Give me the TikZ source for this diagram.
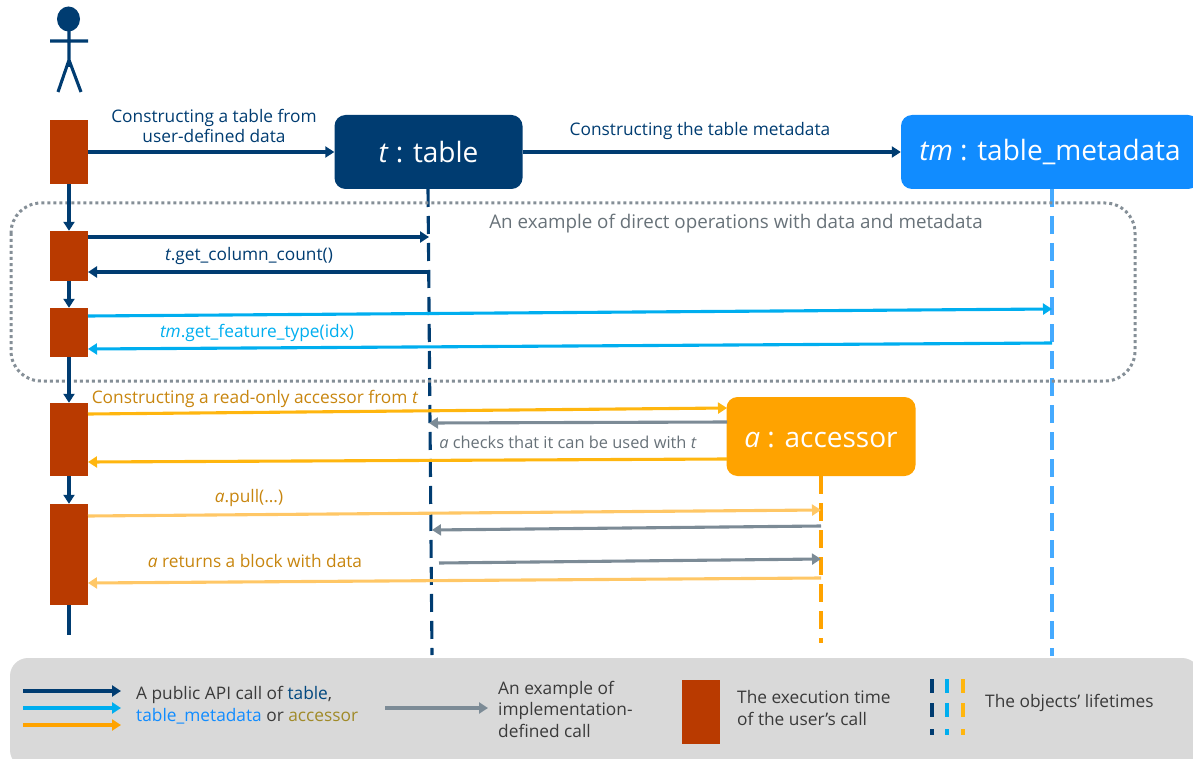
\documentclass[tikz,border=0pt]{standalone}
\usepackage{fontspec}
\setmainfont{Open Sans}
\usetikzlibrary{arrows.meta}
\definecolor{navy}{HTML}{003C71}
\definecolor{cyanl}{HTML}{00AEEF}
\definecolor{tmblue}{HTML}{118CFF}
\definecolor{tmlife}{HTML}{45AAFF}
\definecolor{amber}{HTML}{FFA300}
\definecolor{amberb}{HTML}{FFB60F}
\definecolor{amberl}{HTML}{FFC766}
\definecolor{ambertxt}{HTML}{C8860F}
\definecolor{redb}{HTML}{B93A00}
\definecolor{grayar}{HTML}{7C8B96}
\definecolor{graytxt}{HTML}{687279}
\definecolor{dotgray}{HTML}{858F97}
\definecolor{legendbg}{HTML}{D9D9D9}
\definecolor{legtxt}{HTML}{3A3A3A}
\definecolor{legtable}{HTML}{00477F}
\definecolor{legacc}{HTML}{A08A28}
\tikzset{
  block/.style={fill=redb,inner sep=0pt,minimum width=38pt},
  objbox/.style={rounded corners=11pt,inner sep=0pt,text=white,font=\fontsize{28}{30}\selectfont},
  call/.style={line width=3.1pt,-{Triangle[length=9pt,width=11pt]},shorten >=0pt},
  life/.style={line width=3.1pt,dash pattern=on 18pt off 9pt},
  lab/.style={inner sep=0pt,font=\fontsize{17.3}{20}\selectfont,align=center},
  leg/.style={inner sep=0pt,font=\fontsize{17.3}{21.5}\selectfont,align=left,anchor=west,text=legtxt},
  legdash/.style={line width=3.1pt}
}
\begin{document}
\begin{tikzpicture}[x=1pt,y=-1pt]
\useasboundingbox (0,0) rectangle (1193,759);
% actor
\fill[navy] (68.5,19) ellipse (11.5 and 12.5);
\draw[navy,line width=3.1pt] (69,30) -- (69,67) (50,41) -- (88,41) (58,92) -- (69,60) -- (81,92);
% coordinates
\coordinate (tTop) at (428,189); \coordinate (tBot) at (432,655);
\coordinate (tmTop) at (1052,189); \coordinate (tmBot) at (1052,656);
\coordinate (aTop) at (821,476); \coordinate (aBot) at (821,643);
\coordinate (uEnd) at (69,635);
\coordinate (c1s) at (88,237); \coordinate (c1e) at (429,237);
\coordinate (c2s) at (429,272); \coordinate (c2e) at (88,272);
\coordinate (c3s) at (88,316); \coordinate (c3e) at (1052,309);
\coordinate (c4s) at (1052,343); \coordinate (c4e) at (88,349);
\coordinate (c5s) at (88,414); \coordinate (c5e) at (727,408);
\coordinate (c6s) at (727,422); \coordinate (c6e) at (429,423);
\coordinate (c7s) at (727,459); \coordinate (c7e) at (88,462);
\coordinate (c8s) at (88,516); \coordinate (c8e) at (821,510);
\coordinate (c9s) at (821,526); \coordinate (c9e) at (432,530);
\coordinate (c10s) at (439,563); \coordinate (c10e) at (821,559);
\coordinate (c11s) at (821,578); \coordinate (c11e) at (88,583);
% lifelines
\draw[life,navy] (tTop) -- (tBot);
\draw[life,tmlife] (tmTop) -- (tmBot);
\draw[life,amber] (aTop) -- (aBot);
% dotted group
\draw[dotgray,line width=3pt,dash pattern=on 3pt off 3pt,rounded corners=30pt] (11,203) rectangle (1135,381);
% blocks
\node[block,minimum height=64pt] (b1) at (69,152) {};
\node[block,minimum height=50pt] (b2) at (69,256) {};
\node[block,minimum height=49pt] (b3) at (69,332.5) {};
\node[block,minimum height=73pt] (b4) at (69,439.5) {};
\node[block,minimum height=101pt] (b5) at (69,554.5) {};
% objects
\node[objbox,fill=navy,minimum width=188pt,minimum height=74pt] (t) at (428.5,152) {\textit{t} : table};
\node[objbox,fill=tmblue,minimum width=298pt,minimum height=74pt] (tm) at (1050,152) {\textit{tm} : table\_metadata};
\node[objbox,fill=amber,minimum width=189pt,minimum height=79pt] (a) at (821,436.5) {\raisebox{-11pt}[0pt][0pt]{\textit{a} : accessor}};
% user line
\draw[call,navy] (b1) -- (b2);
\draw[call,navy] (b2) -- (b3);
\draw[call,navy] (b3) -- (b4);
\draw[call,navy] (b4) -- (b5);
\draw[line width=3.1pt,navy] (b5) -- (uEnd);
% calls
\draw[call,navy] (b1) -- (t);
\draw[call,navy] (t) -- (tm);
\draw[call,navy] (c1s) -- (c1e);
\draw[call,navy] (c2s) -- (c2e);
\draw[call,cyanl] (c3s) -- (c3e);
\draw[call,cyanl] (c4s) -- (c4e);
\draw[call,amberb] (c5s) -- (c5e);
\draw[call,grayar] (c6s) -- (c6e);
\draw[call,amberb] (c7s) -- (c7e);
\draw[call,amberl] (c8s) -- (c8e);
\draw[call,grayar] (c9s) -- (c9e);
\draw[call,grayar] (c10s) -- (c10e);
\draw[call,amberl] (c11s) -- (c11e);
% labels
\node[lab,text=navy] (l1) at (214,126) {Constructing a table from\\user-defined data};
\node[lab,text=navy] (l2) at (700,131) {Constructing the table metadata};
\node[lab,text=graytxt,font=\fontsize{18.8}{22}\selectfont] (l3) at (736,223.5) {An example of direct operations with data and metadata};
\node[lab,text=navy] (l4) at (249,256) {\textit{t}.get\_column\_count()};
\node[lab,text=cyanl] (l5) at (257,333) {\textit{tm}.get\_feature\_type(idx)};
\node[lab,text=ambertxt] (l6) at (255,399) {Constructing a read-only accessor from \textit{t}};
\node[lab,text=graytxt,font=\fontsize{16.4}{20}\selectfont] (l7) at (568,442) {\textit{a} checks that it can be used with \textit{t}};
\node[lab,text=ambertxt] (l8) at (249,498) {\textit{a}.pull(...)};
\node[lab,text=ambertxt] (l9) at (255,561) {\textit{a} returns a block with data};
% legend
\fill[legendbg,rounded corners=18pt] (10,658) rectangle (1200,768);
\coordinate (k1s) at (23,691); \coordinate (k1e) at (121,691);
\coordinate (k2s) at (23,708); \coordinate (k2e) at (121,708);
\coordinate (k3s) at (23,725); \coordinate (k3e) at (121,725);
\coordinate (k4s) at (385,708); \coordinate (k4e) at (488,708);
\draw[call,navy] (k1s) -- (k1e);
\draw[call,cyanl] (k2s) -- (k2e);
\draw[call,amber] (k3s) -- (k3e);
\draw[call,grayar] (k4s) -- (k4e);
\node[leg] (t1) at (136,705) {A public API call of \textcolor{legtable}{table},\\\textcolor{tmblue}{table\_metadata} or \textcolor{legacc}{accessor}};
\node[leg] (t2) at (498,709) {An example of\\implementation-\\defined call};
\node[block,minimum height=64pt] (kb) at (701,712) {};
\node[leg] (t3) at (737,708) {The execution time\\of the user's call};
\node[leg] (t4) at (985,703) {The objects' lifetimes};
\foreach \xx/\cc in {932/navy,947/cyanl,963/amberb}{
  \draw[legdash,\cc] (\xx,679) -- (\xx,693) (\xx,703) -- (\xx,717) (\xx,729) -- (\xx,735);
}
\end{tikzpicture}
\end{document}
